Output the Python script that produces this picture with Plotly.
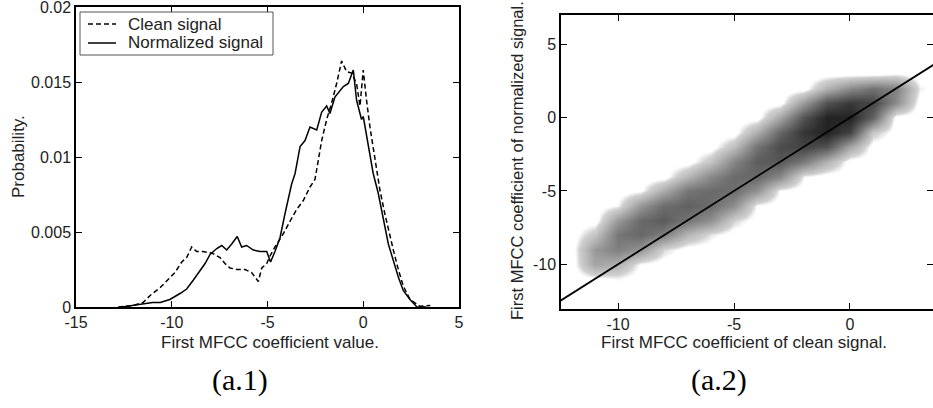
import numpy as np
import plotly.graph_objects as go

# ---------------- data: panel (a.1) histogram curves ----------------
clean_x = [-12.8, -12.0, -11.5, -11.1, -10.6, -10.2, -9.83, -9.48, -9.22, -8.96, -8.7, -8.37,
           -7.91, -7.48, -7.22, -6.96, -6.6, -6.17, -5.83, -5.48, -5.3, -5.04, -4.87, -4.61,
           -4.17, -3.83, -3.48, -3.13, -2.78, -2.52, -2.35, -2.17, -1.91, -1.65, -1.39, -1.13,
           -0.87, -0.61, -0.35, -0.17, 0.0, 0.09, 0.17, 0.35, 0.61, 0.87, 1.13, 1.39, 1.57,
           1.83, 2.09, 2.44, 2.96, 3.5]
clean_y = [0.0, 0.0001, 0.0003, 0.0008, 0.0013, 0.0018, 0.0023, 0.0030, 0.0033, 0.0040, 0.0037, 0.0037,
           0.0036, 0.0033, 0.0029, 0.0026, 0.0025, 0.0025, 0.0023, 0.0017, 0.0026, 0.0029, 0.0034, 0.0040,
           0.0049, 0.0057, 0.0065, 0.0071, 0.0080, 0.0085, 0.0098, 0.0111, 0.0125, 0.0136, 0.0149, 0.0164,
           0.0157, 0.0156, 0.0149, 0.0134, 0.0158, 0.0147, 0.0138, 0.0120, 0.0098, 0.0078, 0.0062, 0.0047, 0.0038,
           0.0025, 0.0014, 0.0005, 0.00005, 0.0001]

norm_x = [-12.6, -12.0, -11.5, -11.0, -10.6, -10.1, -9.57, -9.22, -8.87, -8.52, -8.26, -8.0,
          -7.65, -7.39, -7.13, -6.87, -6.58, -6.35, -6.09, -5.74, -5.39, -5.04, -4.84, -4.61,
          -4.35, -4.09, -3.74, -3.56, -3.3, -3.04, -2.78, -2.43, -2.17, -1.91, -1.74, -1.48,
          -1.04, -0.78, -0.52, -0.35, -0.09, 0.0, 0.26, 0.52, 0.78, 1.04, 1.31, 1.57, 1.83,
          2.09, 2.44, 2.79, 3.3]
norm_y = [0.0, 0.0001, 0.0002, 0.0003, 0.0003, 0.0005, 0.0009, 0.0012, 0.0018, 0.0024, 0.0029, 0.0035,
          0.0039, 0.0041, 0.0038, 0.0042, 0.0047, 0.0040, 0.0041, 0.0038, 0.0037, 0.0037, 0.0030, 0.0037,
          0.0046, 0.0062, 0.0082, 0.0089, 0.0107, 0.0111, 0.0120, 0.0118, 0.0130, 0.0134, 0.0129, 0.0140,
          0.0147, 0.0149, 0.0158, 0.0138, 0.0125, 0.0127, 0.0107, 0.0089, 0.0076, 0.0060, 0.0042, 0.0031, 0.0020,
          0.0011, 0.0005, 0.00002, 0.0]

series_names = ["Clean signal", "Normalized signal"]
prob_ticks = [0, 0.005, 0.01, 0.015, 0.02]
prob_labels = ["0", "0.005", "0.01", "0.015", "0.02"]
coef_ticks_a1 = [-15, -10, -5, 0, 5]
coef_labels_a1 = ["-15", "-10", "-5", "0", "5"]

# ---------------- data: panel (a.2) 2-D histogram (darkness 0..1) ----------------
grid_x = [-12, -11, -10, -9, -8, -7, -6, -5, -4, -3, -2, -1, 0, 1, 2, 3, 4]
grid_y = [-12, -11, -10, -9, -8, -7, -6, -5, -4, -3, -2, -1, 0, 1, 2, 3, 4]
# one list per x column, values for y = -12 ... 4
density_cols = [
    [0, 0, 0, 0, 0, 0, 0, 0, 0, 0, 0, 0, 0, 0, 0, 0, 0],
    [0, 0.03, 0.29, 0.34, 0.15, 0, 0, 0, 0, 0, 0, 0, 0, 0, 0, 0, 0],
    [0, 0.05, 0.23, 0.45, 0.49, 0.34, 0.05, 0, 0, 0, 0, 0, 0, 0, 0, 0, 0],
    [0, 0, 0.03, 0.35, 0.55, 0.55, 0.35, 0.03, 0, 0, 0, 0, 0, 0, 0, 0, 0],
    [0, 0, 0, 0.09, 0.45, 0.60, 0.53, 0.26, 0, 0, 0, 0, 0, 0, 0, 0, 0],
    [0, 0, 0, 0, 0.21, 0.49, 0.58, 0.49, 0.21, 0, 0, 0, 0, 0, 0, 0, 0],
    [0, 0, 0, 0, 0.07, 0.37, 0.53, 0.54, 0.41, 0.15, 0, 0, 0, 0, 0, 0, 0],
    [0, 0, 0, 0, 0, 0.10, 0.38, 0.53, 0.54, 0.42, 0.17, 0, 0, 0, 0, 0, 0],
    [0, 0, 0, 0, 0, 0, 0.04, 0.37, 0.55, 0.60, 0.50, 0.25, 0, 0, 0, 0, 0],
    [0, 0, 0, 0, 0, 0, 0, 0.04, 0.41, 0.62, 0.67, 0.56, 0.28, 0, 0, 0, 0],
    [0, 0, 0, 0, 0, 0, 0, 0, 0.05, 0.47, 0.71, 0.77, 0.64, 0.33, 0, 0, 0],
    [0, 0, 0, 0, 0, 0, 0, 0, 0, 0.23, 0.64, 0.85, 0.85, 0.64, 0.23, 0, 0],
    [0, 0, 0, 0, 0, 0, 0, 0, 0, 0, 0.29, 0.70, 0.85, 0.75, 0.40, 0, 0],
    [0, 0, 0, 0, 0, 0, 0, 0, 0, 0, 0, 0.13, 0.57, 0.70, 0.51, 0, 0],
    [0, 0, 0, 0, 0, 0, 0, 0, 0, 0, 0, 0, 0, 0.40, 0.44, 0.04, 0],
    [0, 0, 0, 0, 0, 0, 0, 0, 0, 0, 0, 0, 0, 0, 0.06, 0, 0],
    [0, 0, 0, 0, 0, 0, 0, 0, 0, 0, 0, 0, 0, 0, 0, 0, 0],
]
identity_x = [-13, 4]          # reference line y = x
coef_ticks_a2_x = [-10, -5, 0]
coef_labels_a2_x = ["-10", "-5", "0"]
coef_ticks_a2_y = [-10, -5, 0, 5]
coef_labels_a2_y = ["-10", "-5", "0", "5"]

# ---------------- figure ----------------
W, H = 933, 408
TXT = "Liberation Sans, Arial, sans-serif"

fig = go.Figure()
fig.add_trace(go.Scatter(x=clean_x, y=clean_y, mode="lines", name=series_names[0],
                         showlegend=False,
                         line=dict(color="black", width=1.5, dash="5px,3px"),
                         xaxis="x", yaxis="y"))
fig.add_trace(go.Scatter(x=norm_x, y=norm_y, mode="lines", name=series_names[1],
                         showlegend=False,
                         line=dict(color="black", width=1.5),
                         xaxis="x", yaxis="y"))

z = np.array(density_cols, dtype=float).T
fig.add_trace(go.Heatmap(x=grid_x, y=grid_y, z=z, zmin=0, zmax=1,
                         colorscale=[[0, "#ffffff"], [0.04, "#ffffff"], [0.1, "#d0d0d0"],
                                     [1, "#000000"]],
                         zsmooth="best", showscale=False, hoverinfo="skip",
                         xaxis="x2", yaxis="y2"))
fig.add_trace(go.Scatter(x=identity_x, y=identity_x, mode="lines", showlegend=False,
                         line=dict(color="black", width=1.8), xaxis="x2", yaxis="y2"))

axis_style = dict(showline=True, linecolor="black", linewidth=1.5, mirror="ticks",
                  ticks="inside", ticklen=6, tickwidth=1.2, tickcolor="black",
                  showgrid=False, zeroline=False, automargin=False,
                  ticklabeloverflow="allow",
                  tickfont=dict(family=TXT, size=16, color="#222"))

def px_x(p):
    return p / W

def px_y(p):
    return 1 - p / H

fig.update_layout(
    width=W, height=H, autosize=False,
    margin=dict(l=0, r=0, t=0, b=0),
    paper_bgcolor="white", plot_bgcolor="white",
    showlegend=False,
    xaxis=dict(domain=[px_x(76), px_x(459)], range=[-15, 5], tickvals=coef_ticks_a1,
               ticktext=coef_labels_a1, anchor="y", **axis_style),
    yaxis=dict(domain=[px_y(307), px_y(7)], range=[0, 0.02], tickvals=prob_ticks,
               ticktext=prob_labels, anchor="x", **axis_style),
    xaxis2=dict(domain=[px_x(561), 1.0], range=[-12.46, 3.58], tickvals=coef_ticks_a2_x,
                ticktext=coef_labels_a2_x, anchor="y2", **axis_style),
    yaxis2=dict(domain=[px_y(309), px_y(15)], range=[-13.05, 7], tickvals=coef_ticks_a2_y,
                ticktext=coef_labels_a2_y, anchor="x2", **axis_style),
)

# legend box (MATLAB style) for panel (a.1)
fig.add_shape(type="rect", xref="paper", yref="paper",
              x0=px_x(80), x1=px_x(273), y0=px_y(55), y1=px_y(12),
              line=dict(color="#555", width=1), fillcolor="white", layer="above")
fig.add_shape(type="line", xref="paper", yref="paper",
              x0=px_x(88), x1=px_x(116), y0=px_y(24), y1=px_y(24),
              line=dict(color="black", width=1.5, dash="5px,3px"), layer="above")
fig.add_shape(type="line", xref="paper", yref="paper",
              x0=px_x(88), x1=px_x(116), y0=px_y(43), y1=px_y(43),
              line=dict(color="black", width=1.5), layer="above")

ann_font = dict(family=TXT, size=17, color="#222")

def label(text, x, y, font, angle=0, xanchor="center"):
    fig.add_annotation(text=text, x=px_x(x), y=px_y(y), xref="paper", yref="paper",
                       xanchor=xanchor, yanchor="middle", textangle=angle,
                       showarrow=False, font=font)

label(series_names[0], 126, 24, ann_font, xanchor="left")
label(series_names[1], 126, 43, ann_font, xanchor="left")
label("Probability.", 18, 157, ann_font, -90)
label("First MFCC coefficient value.", 270, 342, ann_font)
label("First MFCC coefficient of normalized signal.", 517, 161,
      dict(family=TXT, size=16.5, color="#222"), -90)
label("First MFCC coefficient of clean signal.", 744, 342, ann_font)
cap_font = dict(family="Liberation Serif, Times New Roman, serif", size=30, color="black")
label("(a.1)", 240, 380, cap_font)
label("(a.2)", 719, 380, cap_font)

fig.write_html("out.html", config={"displayModeBar": False},
               post_script="document.body.style.margin='0';document.body.style.padding='0';")
